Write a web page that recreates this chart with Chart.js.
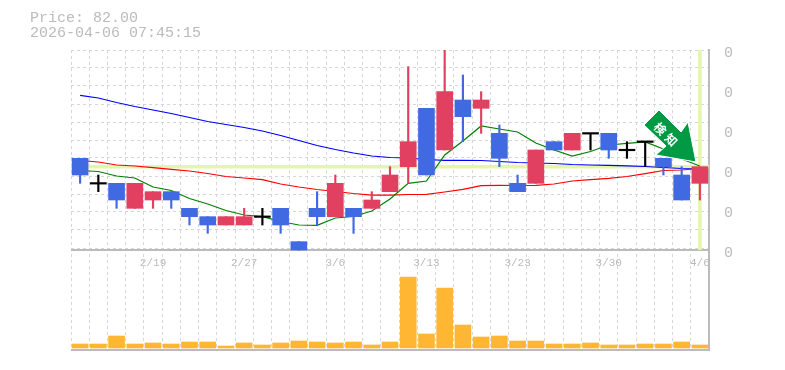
<!DOCTYPE html>
<html>
<head>
<meta charset="utf-8">
<script src="https://cdn.jsdelivr.net/npm/chart.js@4"></script>
<style>
  body { margin: 0; background: #fff; }
  #wrap { position: relative; width: 785px; height: 370px; }
  #info { position: absolute; left: 30px; top: 11px; font: 15px/15px "Liberation Mono", monospace; color: #bbb; white-space: pre; }
  #sign { position: absolute; left: 0; top: 0; }
</style>
</head>
<body>
<div id="wrap">
  <canvas id="stock" width="785" height="370"></canvas>
  <div id="info">Price: 82.00
2026-04-06 07:45:15</div>
  <svg id="sign" width="785" height="370">
    <polygon points="659,110 644,125 666,146 656,155 696,162 688,122 681,132" fill="#009944" stroke="#fff" stroke-width="1"/>
    <text x="661" y="128" transform="rotate(45 661 128)" text-anchor="middle" dominant-baseline="central" fill="#fff" font-family="Noto Sans CJK JP" font-weight="700" font-size="12">検</text>
    <text x="672" y="139" transform="rotate(45 672 139)" text-anchor="middle" dominant-baseline="central" fill="#fff" font-family="Noto Sans CJK JP" font-weight="700" font-size="12">知</text>
  </svg>
</div>
<script>
const dates = ['2/13','2/16','2/17','2/18','2/19','2/20','2/24','2/25','2/26','2/27','3/2','3/3','3/4','3/5','3/6','3/9','3/10','3/11','3/12','3/13','3/16','3/17','3/18','3/19','3/23','3/24','3/25','3/26','3/27','3/30','3/31','4/1','4/2','4/3','4/6'];
const dateLabels = ['2/19','2/27','3/6','3/13','3/23','3/30','4/6'];

const open  = [83,80,80,77,78,79,77,76,75,75,76,77,73,77,76,77,77,79,82,89,84,90,89,86,80,80,85,84,86,86,84,85,83,81,80];
const close = [81,80,78,80,79,78,76,75,76,76,76,75,72,76,80,76,78,81,85,81,91,88,90,83,79,84,84,86,86,84,84,85,82,78,82];
const high  = [83,81,80,80,79,79,77,76,76,77,77,77,73,79,81,77,79,82,94,89,96,93,91,87,81,84,85,86,86,86,85,85,83,82,82];
const low   = [80,79,77,77,77,77,75,74,75,75,75,74,72,75,76,74,77,79,80,81,84,85,86,82,79,80,84,84,84,83,83,82,81,78,78];

const maShort = [81.54,81.42,80.88,80.64,79.56,79.14,78.18,77.52,76.74,76.2,76,75.42,75,74.96,75.84,76.02,76.68,78.12,80,80.28,83.4,85.08,86.88,86.52,86.16,84.84,84,83.28,83.82,84.6,84.8,84.96,84.12,82.92,82.08];
const maMid   = [82.74,82.56,82.2,82.08,81.88,81.68,81.48,81.18,80.82,80.64,80.44,79.92,79.56,79.26,79.02,78.78,78.6,78.6,78.66,78.68,78.96,79.28,79.72,79.76,79.74,79.76,79.92,80.28,80.44,80.6,80.82,81.16,81.54,81.6,81.78];
const maLong  = [90.56,90.24,89.7,89.22,88.8,88.38,87.9,87.42,87.06,86.7,86.28,85.74,85.14,84.54,84.06,83.64,83.28,83.1,83.04,82.86,82.76,82.76,82.74,82.62,82.5,82.44,82.38,82.26,82.2,82.16,82.1,82.02,81.9,81.78,81.72];

const volume = [4,4,12,4,5,4,6,6,2,5,3,5,7,6,5,6,3,6,71,14,60,23,11,12,7,7,4,4,5,3,3,4,4,6,3];

const lastPrice = 82;
const gridTicks = [96,93.84,91.68,89.52,87.36,85.2,83.04,80.88,78.72,76.56,74.4,72.24];
const labelTicks = [96,91.2,86.4,81.6,76.8,72,60];

const RED = '#e24060';
const BLUE = '#4169e1';
const candleColor = open.map((o, i) => close[i] > o ? RED : close[i] < o ? BLUE : '#000');
const bodies = open.map((o, i) => o === close[i] ? [o - 0.09, o + 0.09] : [o, close[i]]);
const wicks = low.map((l, i) => [l, high[i]]);

// light green lines for the last price and the last day
const priceMarks = {
  id: 'priceMarks',
  beforeDatasetsDraw(chart) {
    const { ctx, chartArea, scales } = chart;
    const py = scales.y.getPixelForValue(lastPrice);
    const px = scales.x.getPixelForValue(dates.length - 1);
    ctx.save();
    ctx.strokeStyle = '#e4f6a8';
    ctx.lineWidth = 3.5;
    ctx.beginPath();
    ctx.moveTo(chartArea.left, py);
    ctx.lineTo(chartArea.right, py);
    ctx.moveTo(px, chartArea.top);
    ctx.lineTo(px, scales.y.getPixelForValue(72));
    ctx.stroke();
    ctx.restore();
  }
};

function maLine(data, color) {
  return { type: 'line', data, borderColor: color, borderWidth: 1.25, pointRadius: 0, tension: 0, yAxisID: 'y', order: 4 };
}

// the layout must not reserve room for tick labels
function fixBox(scale, size) {
  if (scale.isHorizontal()) scale.height = size;
  else scale.width = size;
  scale.paddingLeft = scale.paddingRight = scale.paddingTop = scale.paddingBottom = 0;
}

new Chart(document.getElementById('stock'), {
  data: {
    labels: dates,
    datasets: [
      { type: 'bar', data: bodies, backgroundColor: candleColor, barThickness: 16, grouped: false, yAxisID: 'y', order: 1 },
      { type: 'bar', data: wicks, backgroundColor: candleColor, barThickness: 1.5, grouped: false, yAxisID: 'y', order: 2 },
      { type: 'bar', data: volume, backgroundColor: '#ffb733', barThickness: 16, grouped: false, yAxisID: 'yVol', order: 3 },
      maLine(maShort, '#008000'),
      maLine(maMid, '#ff0000'),
      maLine(maLong, '#0000ff')
    ]
  },
  options: {
    responsive: false,
    animation: false,
    events: [],
    layout: { padding: { left: 71, top: 50, bottom: 20 } },
    plugins: { legend: { display: false }, tooltip: { enabled: false } },
    scales: {
      x: {
        position: { y: 72 },
        afterFit(scale) { fixBox(scale, 0); },
        grid: { offset: true, color: '#d6d6d6', lineWidth: 1, drawTicks: false },
        border: { display: false, dash: [3, 3] },
        ticks: {
          autoSkip: false,
          maxRotation: 0,
          padding: 6,
          color: '#bbb',
          font: { family: 'Liberation Mono', size: 11 },
          callback(value) {
            const d = dates[value];
            return dateLabels.includes(d) ? d : '';
          }
        }
      },
      y: {
        position: 'right',
        min: 60,
        max: 96,
        afterBuildTicks(scale) { scale.ticks = gridTicks.map(v => ({ value: v })); },
        afterFit(scale) { fixBox(scale, 0); },
        grid: { color: '#d6d6d6', lineWidth: 1, drawTicks: false },
        border: { display: false, dash: [3, 3] },
        ticks: { display: false }
      },
      yLabels: {
        position: 'right',
        min: 60,
        max: 96,
        afterBuildTicks(scale) { scale.ticks = labelTicks.map(v => ({ value: v })); },
        afterFit(scale) { fixBox(scale, 76); },
        grid: {
          drawTicks: false,
          lineWidth: 2,
          color: ctx => (ctx.tick.value === 72 || ctx.tick.value === 60) ? '#bbb' : 'rgba(0,0,0,0)'
        },
        border: { display: true, color: '#bbb', width: 2 },
        ticks: {
          padding: 15,
          labelOffset: 3,
          color: '#bbb',
          font: { family: 'Liberation Mono', size: 15 },
          callback: value => value === 60 ? '' : '0'
        }
      },
      yVol: { display: false, min: -2, max: 298 }
    }
  },
  plugins: [priceMarks]
});
</script>
</body>
</html>
